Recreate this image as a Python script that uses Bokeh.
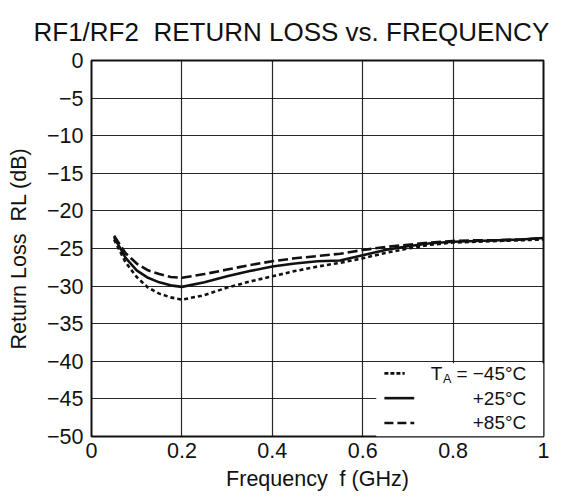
from bokeh.plotting import figure
from bokeh.models import Range1d, FixedTicker, BoxAnnotation, ColumnDataSource
from bokeh.core.properties import value
from bokeh.embed import file_html
from bokeh.resources import INLINE

# ---------------- data ----------------
freq_ghz = [0.05, 0.075, 0.1, 0.125, 0.15, 0.175, 0.2, 0.25, 0.3, 0.35, 0.4, 0.45,
            0.5, 0.55, 0.6, 0.65, 0.7, 0.75, 0.8, 0.85, 0.9, 0.95, 1.0]
rl_m45 = [-23.8, -26.8, -28.8, -30.2, -31.0, -31.5, -31.8, -31.2, -30.2, -29.4, -28.7, -28.0,
          -27.4, -26.9, -26.3, -25.6, -25.0, -24.5, -24.2, -24.1, -24.0, -23.9, -23.8]
rl_p25 = [-23.5, -26.2, -27.9, -28.9, -29.5, -29.9, -30.1, -29.5, -28.7, -28.0, -27.4, -27.0,
          -26.7, -26.6, -25.9, -25.2, -24.7, -24.3, -24.1, -24.0, -23.9, -23.8, -23.6]
rl_p85 = [-23.3, -25.6, -27.0, -27.9, -28.4, -28.8, -28.9, -28.4, -27.8, -27.2, -26.7, -26.3,
          -26.0, -25.7, -25.2, -24.8, -24.5, -24.2, -24.0, -23.9, -23.9, -23.8, -23.6]

x_ticks = [0, 0.2, 0.4, 0.6, 0.8, 1.0]
x_tick_labels = ["0", "0.2", "0.4", "0.6", "0.8", "1"]
y_ticks = [0, -5, -10, -15, -20, -25, -30, -35, -40, -45, -50]
y_tick_labels = ["0", "\u22125", "\u221210", "\u221215", "\u221220", "\u221225",
                 "\u221230", "\u221235", "\u221240", "\u221245", "\u221250"]

title_text = "RF1/RF2\u00a0 RETURN LOSS vs. FREQUENCY"
x_label = "Frequency\u00a0 f (GHz)"
y_label = "Return Loss\u00a0 RL (dB)"
legend_labels = ["= \u221245\u00b0C", "+25\u00b0C", "+85\u00b0C"]

# ---------------- style ----------------
FONT = "Liberation Sans"
INK = "#111111"
DOT = "4 3"
DASH = "10 4"
LW = 2.6

p = figure(width=574, height=497, output_backend="svg", toolbar_location=None,
           x_range=Range1d(0, 1), y_range=Range1d(-50, 0),
           min_border_left=91, min_border_right=31, min_border_top=57, min_border_bottom=61)
p.background_fill_color = "white"
p.border_fill_color = "white"
p.outline_line_color = INK
p.outline_line_width = 2

p.title.text = title_text
p.title.text_font = FONT
p.title.text_font_size = "26px"
p.title.text_font_style = "normal"
p.title.text_color = INK
p.title.align = "left"
p.title.offset = -58
p.title.standoff = 28

for ax in (p.xaxis[0], p.yaxis[0]):
    ax.axis_line_color = None
    ax.major_tick_line_color = None
    ax.minor_tick_line_color = None
    ax.major_tick_out = 0
    ax.major_tick_in = 0
    ax.major_label_text_font = FONT
    ax.major_label_text_font_size = "21.5px"
    ax.major_label_text_color = INK
    ax.axis_label_text_font = FONT
    ax.axis_label_text_font_size = "21.5px"
    ax.axis_label_text_font_style = "normal"
    ax.axis_label_text_color = INK

p.xaxis.ticker = FixedTicker(ticks=x_ticks)
p.xaxis.major_label_overrides = {t: l for t, l in zip(x_ticks, x_tick_labels)}
p.yaxis.ticker = FixedTicker(ticks=y_ticks)
p.yaxis.major_label_overrides = {t: l for t, l in zip(y_ticks, y_tick_labels)}
p.xaxis.axis_label = x_label
p.yaxis.axis_label = y_label
p.xaxis.major_label_standoff = 6
p.xaxis.axis_label_standoff = 6
p.yaxis.major_label_standoff = 8
p.yaxis.axis_label_standoff = 13

p.xgrid.ticker = FixedTicker(ticks=x_ticks)
p.ygrid.ticker = FixedTicker(ticks=y_ticks)
for g in (p.xgrid[0], p.ygrid[0]):
    g.grid_line_color = INK
    g.grid_line_width = 1.2
    g.grid_line_alpha = 0.9

src = ColumnDataSource(dict(f=freq_ghz, m45=rl_m45, p25=rl_p25, p85=rl_p85))
p.line("f", "m45", source=src, line_color=INK, line_width=LW, line_dash=DOT)
p.line("f", "p25", source=src, line_color=INK, line_width=LW)
p.line("f", "p85", source=src, line_color=INK, line_width=LW, line_dash=DASH)

# legend (drawn by hand, right-aligned labels as in the reference)
p.add_layout(BoxAnnotation(left=0.63, right=1.0, top=-40.25, bottom=-50,
                           fill_color="white", fill_alpha=1.0, line_color=None))
rows_y = [-41.6, -44.9, -48.2]
seg_x0, seg_x1 = 0.648, 0.714
label_x = 0.962
legend_glyphs = []
legend_glyphs.append(p.segment(x0=[seg_x0], y0=[rows_y[0]], x1=[seg_x0 + 0.045], y1=[rows_y[0]],
                               line_color=INK, line_width=LW, line_dash="4 2"))
legend_glyphs.append(p.segment(x0=[seg_x0], y0=[rows_y[1]], x1=[seg_x1], y1=[rows_y[1]],
                               line_color=INK, line_width=LW))
legend_glyphs.append(p.segment(x0=[seg_x0], y0=[rows_y[2]], x1=[seg_x1], y1=[rows_y[2]],
                               line_color=INK, line_width=LW, line_dash="9 4"))
legend_glyphs.append(p.text(x=[label_x], y=[rows_y[0]], text=["T"], text_font=value(FONT),
                            text_font_size="19px", text_color=INK, text_align="right",
                            text_baseline="middle", x_offset=-84))
legend_glyphs.append(p.text(x=[label_x], y=[rows_y[0]], text=["A"], text_font=value(FONT),
                            text_font_size="12.5px", text_color=INK, text_align="right",
                            text_baseline="alphabetic", x_offset=-75, y_offset=6))
legend_glyphs.append(p.text(x=[label_x] * 3, y=rows_y, text=legend_labels,
                            text_font=value(FONT), text_font_size="19px", text_color=INK,
                            text_align="right", text_baseline="middle"))
for r in legend_glyphs:
    r.level = "overlay"

open("out.html", "w").write(file_html(p, INLINE))
